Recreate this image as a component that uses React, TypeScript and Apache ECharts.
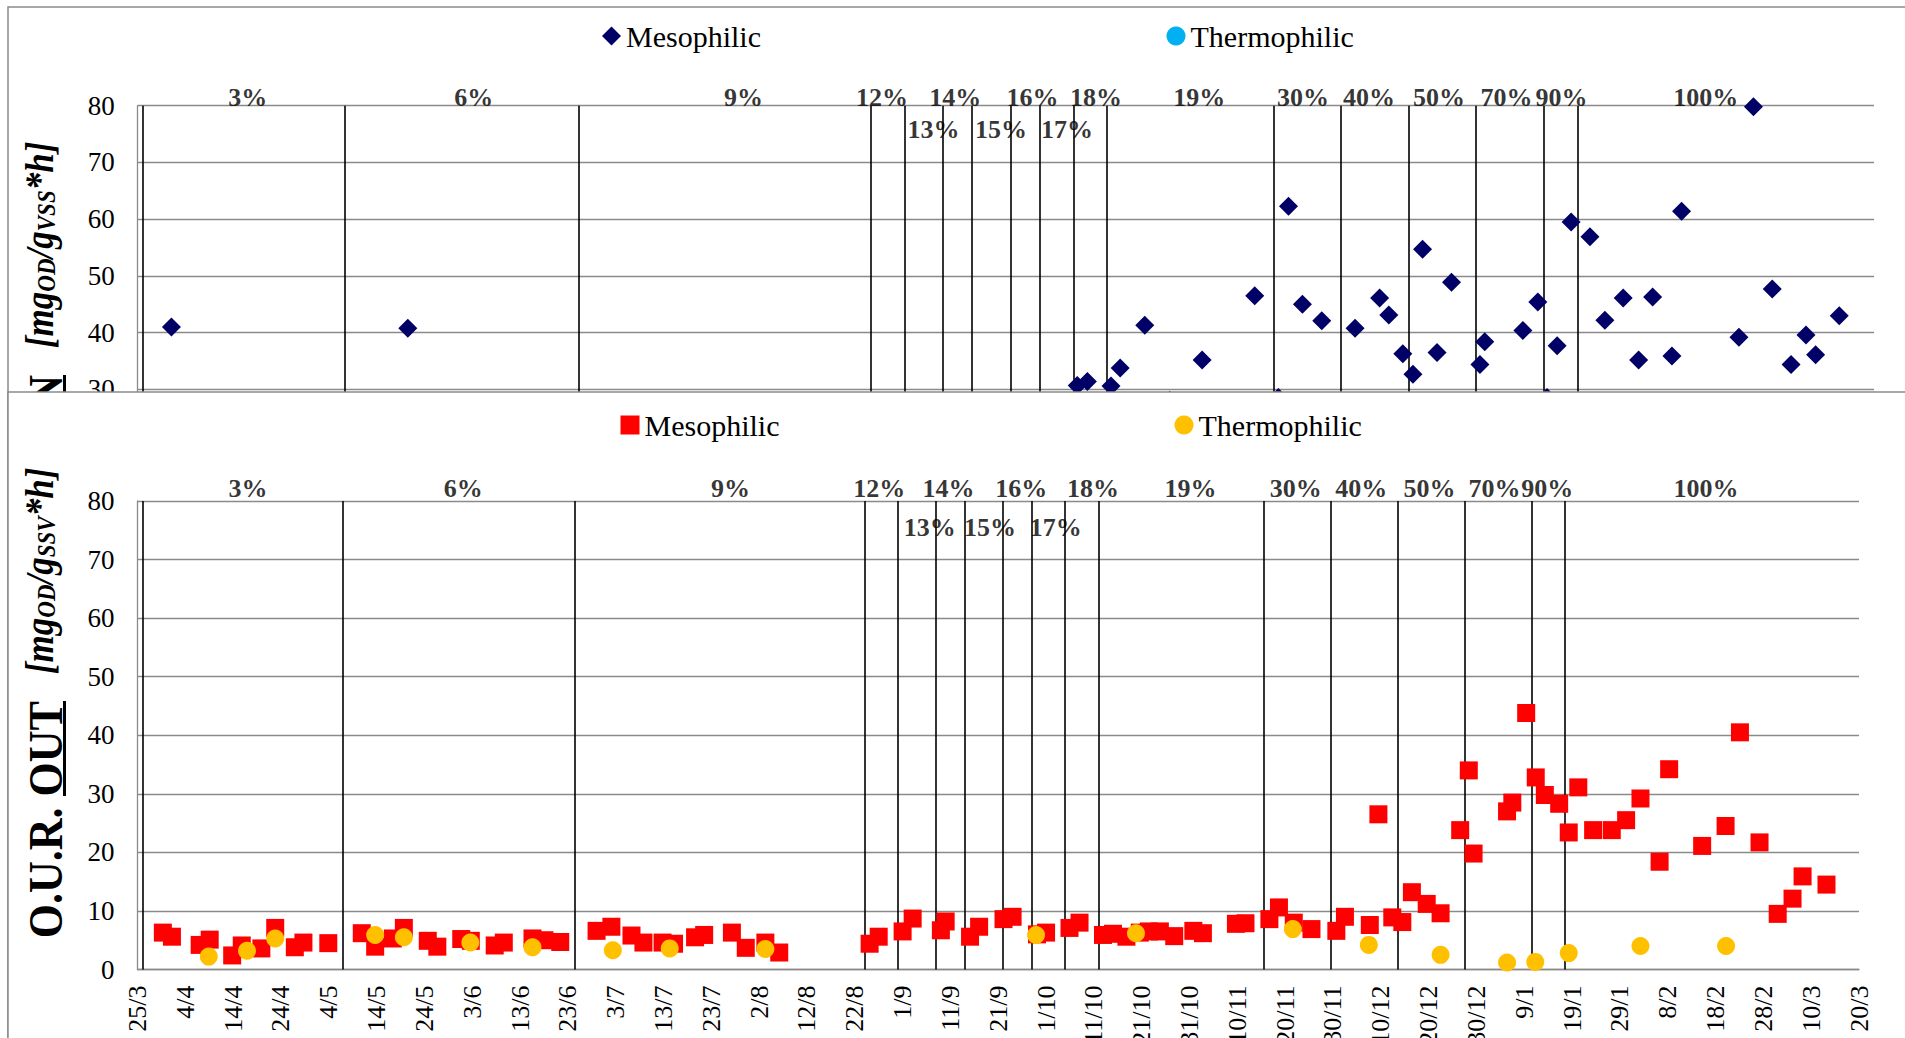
import React, { useEffect, useRef } from 'react';
import * as echarts from 'echarts';

// ---------- data ----------
const dateTicks = ['25/3', '4/4', '14/4', '24/4', '4/5', '14/5', '24/5', '3/6', '13/6', '23/6', '3/7', '13/7', '23/7', '2/8', '12/8', '22/8', '1/9', '11/9', '21/9', '1/10', '11/10', '21/10', '31/10', '10/11', '20/11', '30/11', '10/12', '20/12', '30/12', '9/1', '19/1', '29/1', '8/2', '18/2', '28/2', '10/3', '20/3'];
const yTicksMax = 80;
const topVisibleMin = 30; // the upper chart is covered below this value

// phase boundaries (days since 25/3)
const phaseBoundaries = [1, 43, 91.5, 152, 159, 167, 173, 181, 187, 194, 201, 235.5, 249.5, 263.5, 277.5, 291.5, 298.5];

const phaseNamesUpper = ['3%', '6%', '9%', '12%', '14%', '16%', '18%', '19%', '30%', '40%', '50%', '70%', '90%', '100%'];
const phaseDaysUpperIn = [22.8, 69.7, 125.6, 154.3, 169.5, 185.5, 198.7, 220.1, 241.6, 255.3, 269.8, 283.8, 295.2, 325.1];
const phaseDaysUpperOut = [23.1, 68.1, 124.0, 155.1, 169.6, 184.8, 199.8, 220.2, 242.2, 255.9, 270.2, 283.8, 294.8, 328.0];
const phaseNamesLower = ['13%', '15%', '17%'];
const phaseDaysLowerIn = [165.0, 179.0, 192.7];
const phaseDaysLowerOut = [165.7, 178.3, 192.0];

const mesophilicIn: [number, number][] = [
  [7, 41.0], [56, 40.8], [194.8, 30.7], [196.9, 31.4], [201.8, 30.6], [203.7, 33.8], [208.8, 41.3], [214, 28.1],
  [220.7, 35.2], [231.6, 46.5], [236.5, 28.6], [238.6, 62.3], [241.5, 45.0], [245.5, 42.1], [252.4, 40.8], [257.5, 46.1],
  [259.4, 43.1], [262.3, 36.3], [264.4, 32.7], [266.4, 54.7], [269.4, 36.5], [272.4, 48.9], [278.3, 34.4], [279.3, 38.4],
  [287.2, 40.4], [290.3, 45.4], [292.2, 28.6], [294.3, 37.7], [297.2, 59.5], [301.1, 56.9], [304.2, 42.2], [308.0, 46.1],
  [311.2, 35.2], [314.1, 46.3], [318.1, 35.9], [320.1, 61.4], [332.0, 39.2], [335.0, 79.8], [338.9, 47.7], [342.8, 34.4],
  [345.9, 39.6], [347.9, 36.1], [352.8, 43.0],
];
const thermophilicIn: [number, number][] = [];

const mesophilicOut: [number, number][] = [
  [5.3, 6.3], [7.2, 5.6], [13.0, 4.2], [15.1, 5.1], [19.8, 2.4], [21.8, 4.1], [25.9, 3.6], [28.8, 7.1], [32.9, 3.8],
  [34.7, 4.6], [39.9, 4.5], [46.9, 6.2], [49.7, 3.9], [53.4, 5.3], [55.7, 7.1], [60.7, 4.9], [62.7, 3.9], [67.7, 5.2],
  [69.7, 4.9], [74.7, 4.1], [76.6, 4.6], [82.6, 5.3], [85.1, 5.0], [88.4, 4.7], [96.0, 6.6], [99.1, 7.3], [103.3, 5.8],
  [105.8, 4.6], [109.8, 4.6], [112.2, 4.4], [116.6, 5.5], [118.5, 5.9], [124.3, 6.3], [127.2, 3.7], [131.3, 4.6],
  [134.2, 2.9], [153.1, 4.4], [155.0, 5.6], [160.0, 6.5], [162.1, 8.7], [168.0, 6.7], [169.0, 8.2], [174.1, 5.6],
  [176.0, 7.3], [181.1, 8.6], [183.0, 9.0], [188.1, 6.0], [190.0, 6.3], [194.9, 7.1], [197.0, 8.0], [201.9, 5.9],
  [204.0, 6.1], [206.8, 5.6], [209.6, 6.3], [211.5, 6.5], [213.8, 6.5], [216.8, 5.7], [220.8, 6.6], [222.8, 6.2],
  [229.7, 7.8], [231.7, 7.9], [236.7, 8.6], [238.7, 10.6], [241.8, 8.0], [245.5, 6.9], [250.7, 6.6], [252.5, 9.0],
  [257.7, 7.6], [259.5, 26.5], [262.4, 8.9], [264.5, 8.1], [266.5, 13.2], [269.6, 11.2], [272.5, 9.6], [276.6, 23.8],
  [278.4, 34.0], [279.4, 19.8], [286.4, 27.0], [287.5, 28.5], [290.4, 43.8], [292.4, 32.8], [294.3, 29.8], [297.3, 28.3],
  [299.3, 23.4], [301.3, 31.1], [304.4, 23.8], [308.3, 23.8], [311.3, 25.5], [314.3, 29.2], [318.3, 18.4], [320.3, 34.2],
  [327.2, 21.1], [332.1, 24.5], [335.1, 40.5], [339.2, 21.7], [343.0, 9.5], [346.1, 12.1], [348.2, 15.9], [353.2, 14.5],
];
const thermophilicOut: [number, number][] = [
  [14.9, 2.2], [22.9, 3.2], [28.8, 5.3], [49.7, 5.9], [55.7, 5.5], [69.6, 4.6], [82.6, 3.8], [99.4, 3.3], [111.3, 3.6],
  [131.3, 3.5], [187.9, 5.9], [208.8, 6.2], [241.6, 6.9], [257.5, 4.2], [272.5, 2.5], [286.4, 1.2], [292.3, 1.3],
  [299.3, 2.8], [314.3, 4.0], [332.2, 4.0],
];

// ---------- styling ----------
const FONT = 'Liberation Serif, Times New Roman, serif';
const GRAY = '#8a8a8a';

function labelItems(names: string[], days: number[], offsetY: number) {
  return names.map((n, i) => ({ name: n, value: [days[i], yTicksMax], label: { offset: [0, offsetY] } }));
}

function titleRich() {
  return {
    big: { fontSize: 44, fontWeight: 'bold', fontFamily: FONT, verticalAlign: 'top', color: '#000' },
    gap: { width: 27, fontSize: 10, verticalAlign: 'top' },
    br: { fontSize: 35, fontWeight: 'bold', fontStyle: 'italic', fontFamily: FONT, verticalAlign: 'top', color: '#000' },
    sub: { fontSize: 23, fontWeight: 'bold', fontStyle: 'italic', fontFamily: FONT, verticalAlign: 'top', padding: [11, 0, 0, 0], color: '#000' },
  };
}

function axisPair(gridIndex: number, z: number, showX: boolean) {
  const x = {
    gridIndex, type: 'value', min: 0, max: 360, interval: 10, z,
    axisLine: { show: true, lineStyle: { color: GRAY, width: 1.3 } },
    axisTick: { show: false },
    splitLine: { show: false },
    axisLabel: {
      show: showX, rotate: 90, margin: 16, fontSize: 26, fontFamily: FONT, color: '#000',
      formatter: (v: number) => dateTicks[Math.round(v / 10)] ?? '',
    },
  };
  const y = {
    gridIndex, type: 'value', min: 0, max: yTicksMax, interval: 10, z,
    axisLine: { show: true, lineStyle: { color: GRAY, width: 1.3 } },
    axisTick: { show: false },
    splitLine: { show: true, lineStyle: { color: GRAY, width: 1.3 } },
    axisLabel: {
      fontSize: 27, fontFamily: FONT, color: '#000', margin: 23,
      formatter: (v: number) => (gridIndex === 0 && v < topVisibleMin ? '' : String(v)),
    },
  };
  return { x, y };
}

function phaseSeries(idx: number, upper: any[], lower: any[], zLine: number, zLab: number) {
  return {
    type: 'scatter', name: '__phase' + idx, xAxisIndex: idx, yAxisIndex: idx,
    symbolSize: 1, itemStyle: { color: 'rgba(0,0,0,0)' }, clip: false, silent: true, z: zLab,
    data: [...upper, ...lower],
    label: { show: true, position: 'inside', formatter: '{b}', fontSize: 26, fontWeight: 'bold', fontFamily: FONT, color: '#000' },
    markLine: {
      silent: true, symbol: ['none', 'none'], z: zLine, animation: false,
      label: { show: false },
      lineStyle: { color: '#000', width: 1.6, type: 'solid' },
      emphasis: { disabled: true },
      data: phaseBoundaries.map((d) => ({ xAxis: d })),
    },
  };
}

function legend(name: string, icon: string, left: number, top: number, z: number, suffix: string) {
  return {
    data: [{ name, icon }], left, top, padding: 0, itemWidth: 19, itemHeight: 19, z,
    selectedMode: false,
    formatter: (n: string) => n.replace(suffix, ''),
    textStyle: { fontSize: 30, fontFamily: FONT, color: '#000' },
  };
}

export default function App() {
  const ref = useRef<HTMLDivElement>(null);
  useEffect(() => {
    if (!ref.current) return;
    const chart = echarts.init(ref.current, undefined, { renderer: 'svg' });
    const top = axisPair(0, 0, false);
    const bot = axisPair(1, 55, true);
    const option: any = {
      animation: false,
      backgroundColor: '#fff',
      grid: [
        { left: 137.7, top: 105.7, width: 1736.3, height: 454, containLabel: false, outerBoundsMode: 'none' },
        { left: 137.5, top: 501, width: 1721.5, height: 468.5, containLabel: false, outerBoundsMode: 'none' },
      ],
      xAxis: [top.x, bot.x],
      yAxis: [top.y, bot.y],
      legend: [
        legend('Mesophilic IN', 'diamond', 602, 21, 4, ' IN'),
        legend('Thermophilic IN', 'circle', 1166.5, 21, 4, ' IN'),
        legend('Mesophilic OUT', 'rect', 620.5, 410, 60, ' OUT'),
        legend('Thermophilic OUT', 'circle', 1174.5, 410, 60, ' OUT'),
      ],
      graphic: [
        { type: 'rect', silent: true, z: 0, shape: { x: 8, y: 7, width: 1910, height: 1100 }, style: { fill: 'none', stroke: GRAY, lineWidth: 1.5 } },
        {
          type: 'text', silent: true, z: 1, x: 20.6, y: 141.7, rotation: Math.PI / 2, scaleY: 1.12,
          style: { text: '{big|IN}{gap| }{br|[mg}{sub|OD}{br|/g}{sub|VSS}{br|*h]}', rich: titleRich(), align: 'right', verticalAlign: 'top' },
        },
        { type: 'rect', silent: true, z: 1, shape: { x: 63, y: 375, width: 3, height: 49 }, style: { fill: '#000' } },
        { type: 'rect', silent: true, z: 50, shape: { x: 8, y: 392, width: 1910, height: 700 }, style: { fill: '#fff', stroke: GRAY, lineWidth: 1.5 } },
        {
          type: 'text', silent: true, z: 60, x: 20.6, y: 467.7, rotation: Math.PI / 2, scaleY: 1.12,
          style: { text: '{big|O.U.R. OUT}{gap| }{br|[mg}{sub|OD}{br|/g}{sub|SSV}{br|*h]}', rich: titleRich(), align: 'right', verticalAlign: 'top' },
        },
        { type: 'rect', silent: true, z: 60, shape: { x: 63, y: 701, width: 3, height: 95 }, style: { fill: '#000' } },
      ],
      series: [
        phaseSeries(0, labelItems(phaseNamesUpper, phaseDaysUpperIn, -8.5), labelItems(phaseNamesLower, phaseDaysLowerIn, 23.5), 1, 3),
        { type: 'scatter', name: 'Mesophilic IN', xAxisIndex: 0, yAxisIndex: 0, symbol: 'diamond', symbolSize: 19, z: 2, itemStyle: { color: '#000066', opacity: 1 }, data: mesophilicIn },
        { type: 'scatter', name: 'Thermophilic IN', xAxisIndex: 0, yAxisIndex: 0, symbol: 'circle', symbolSize: 18, z: 2, itemStyle: { color: '#00B0F0', opacity: 1 }, data: thermophilicIn },
        phaseSeries(1, labelItems(phaseNamesUpper, phaseDaysUpperOut, -12.5), labelItems(phaseNamesLower, phaseDaysLowerOut, 26), 56, 58),
        { type: 'scatter', name: 'Mesophilic OUT', xAxisIndex: 1, yAxisIndex: 1, symbol: 'rect', symbolSize: 18, z: 60, itemStyle: { color: '#FF0000', opacity: 1 }, data: mesophilicOut },
        { type: 'scatter', name: 'Thermophilic OUT', xAxisIndex: 1, yAxisIndex: 1, symbol: 'circle', symbolSize: 18, z: 61, itemStyle: { color: '#FFC000', opacity: 1 }, data: thermophilicOut },
      ],
    };
    chart.setOption(option);
    return () => chart.dispose();
  }, []);
  return <div ref={ref} style={{ position: 'fixed', left: 0, top: 0, width: 1905, height: 1038, background: '#fff' }} />;
}
